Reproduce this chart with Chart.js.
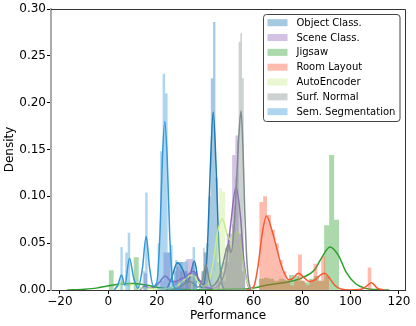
<!DOCTYPE html>
<html>
<head>
<meta charset="utf-8">
<script src="https://cdn.jsdelivr.net/npm/chart.js@4.4.1/dist/chart.umd.min.js"></script>
<style>
  html, body { margin: 0; padding: 0; background: #fff; }
  #chart { display: block; }
</style>
</head>
<body>
<canvas id="chart" width="416" height="326"></canvas>
<script>
// Series names (legend order = plotting order)
const seriesNames = ["Object Class.", "Scene Class.", "Jigsaw", "Room Layout", "AutoEncoder", "Surf. Normal", "Sem. Segmentation"];
const seriesColors = ["31,119,180", "148,103,189", "44,160,44", "250,87,51", "200,235,140", "127,140,141", "52,152,219"];

// Histograms: first bin edge, bin width, density per bin
const objStart = 26.15, objWidth = 0.95;
const objHeights = [0.01, 0.02, 0.03, 0.03, 0.03, 0.03, 0.02, 0.01, 0.02, 0.03, 0.02, 0.0, 0.01, 0.02, 0.04, 0.05, 0.1, 0.226, 0.286, 0.12, 0.03];

const sceneStart = 14.65, sceneWidth = 1.35;
const sceneHeights = [0.018, 0, 0, 0, 0, 0.01, 0.04, 0.04, 0, 0.01, 0.025, 0.02, 0.02, 0.033, 0.033, 0.02, 0, 0, 0, 0, 0, 0, 0.01, 0, 0.01, 0.03, 0.06, 0.144, 0.165, 0.06, 0.02];

const jigStart = 0.1, jigWidth = 2.07;
const jigHeights = [0.021, 0, 0, 0, 0, 0.035, 0, 0, 0, 0, 0, 0, 0, 0, 0, 0, 0, 0, 0, 0, 0, 0, 0, 0, 0, 0, 0, 0, 0, 0, 0.012, 0.013, 0.012, 0.01, 0.012, 0.011, 0.016, 0.015, 0.01, 0.008, 0.012, 0.015, 0.01, 0.069, 0.144, 0.075];

const roomStart = 62.3, roomWidth = 1.6;
const roomHeights = [0.094, 0.1, 0.08, 0.064, 0.05, 0.032, 0.02, 0.01, 0.005, 0.01, 0.038, 0.01, 0.005, 0.01, 0.028, 0.01, 0.036, 0.015, 0, 0, 0, 0, 0, 0, 0, 0, 0, 0, 0.024];

const aeStart = 4.0, aeWidth = 1.3;
const aeHeights = [0.01, 0.01, 0, 0.01, 0, 0, 0, 0, 0, 0, 0, 0, 0, 0, 0, 0, 0, 0, 0, 0, 0, 0, 0, 0.015, 0.015, 0, 0, 0, 0, 0, 0.02, 0.06, 0.109, 0.105, 0.04, 0.05, 0.06, 0.06, 0.05, 0.02];

const surfStart = 30.0, surfWidth = 0.7;
const surfHeights = [0, 0.01, 0, 0.015, 0.01, 0.015, 0, 0.01, 0, 0, 0, 0, 0.02, 0.045, 0.04, 0.02, 0, 0, 0, 0, 0, 0, 0.01, 0.02, 0.02, 0.03, 0.045, 0.06, 0.05, 0.04, 0.07, 0.09, 0.12, 0.16, 0.265, 0.274, 0.226, 0.03];

const semStart = 4.89, semWidth = 1.03;
const semHeights = [0.046, 0, 0.04, 0.061, 0, 0, 0, 0, 0, 0.02, 0.104, 0, 0, 0, 0, 0.05, 0.148, 0.231, 0.21, 0.04, 0.048, 0, 0.032, 0, 0.03, 0, 0.031, 0, 0, 0.046, 0.01];

// Density curves
const objKdeX = [24, 26, 28.5, 31, 32.5, 34, 35.5, 37, 38.5, 40, 41, 42, 43.3, 44.5, 45.5, 46.5, 47.5, 49];
const objKdeY = [0, 0.012, 0.029, 0.02, 0.008, 0.018, 0.031, 0.012, 0.003, 0.014, 0.05, 0.123, 0.19, 0.13, 0.055, 0.014, 0.002, 0];

const sceneKdeX = [13, 15, 17, 19, 21, 23.5, 26, 28, 30, 32, 35, 37.5, 40, 43, 46, 48.5, 50.5, 52.7, 54.5, 56, 57.5, 59];
const sceneKdeY = [0, 0.004, 0.002, 0.003, 0.008, 0.015, 0.009, 0.009, 0.012, 0.014, 0.02, 0.011, 0.003, 0.002, 0.006, 0.025, 0.07, 0.11, 0.08, 0.03, 0.006, 0];

const jigKdeX = [-17, -10, -5, 0, 5, 10, 15, 20, 25, 30, 40, 50, 60, 65, 70, 75, 80, 85, 88, 91.5, 95, 98, 102, 106, 110, 116];
const jigKdeY = [0, 0.0008, 0.002, 0.0045, 0.0065, 0.007, 0.0055, 0.003, 0.0012, 0.0005, 0.0003, 0.0008, 0.002, 0.005, 0.007, 0.009, 0.013, 0.021, 0.034, 0.046, 0.037, 0.02, 0.007, 0.002, 0.0005, 0];

const roomKdeX = [57, 60, 62, 63.5, 65.3, 67.5, 69.5, 71, 72.5, 74.5, 76, 78.5, 80.5, 83, 85.5, 87.5, 89.3, 91.5, 93.5, 96, 100, 104, 106, 108.7, 111, 114];
const roomKdeY = [0, 0.0035, 0.029, 0.06, 0.079, 0.064, 0.045, 0.03, 0.019, 0.011, 0.012, 0.018, 0.014, 0.009, 0.011, 0.016, 0.018, 0.012, 0.005, 0.001, 0, 0.0005, 0.003, 0.0078, 0.002, 0];

const aeKdeX = [2, 4, 6, 8, 10, 12, 15, 20, 25, 28, 31, 34.5, 37, 39, 41, 43, 45, 47, 49, 50.5, 52, 53.5, 55, 56.5, 58, 60];
const aeKdeY = [0, 0.004, 0.008, 0.005, 0.006, 0.003, 0.002, 0.001, 0.002, 0.004, 0.01, 0.016, 0.009, 0.004, 0.006, 0.025, 0.06, 0.076, 0.06, 0.053, 0.06, 0.062, 0.04, 0.015, 0.004, 0];

const surfKdeX = [27, 29, 31, 33, 35, 37, 39, 40.3, 41.5, 42.5, 44, 46, 47.5, 49.6, 50.6, 52, 53, 54, 54.8, 55.6, 56.3, 57, 57.8, 58.8];
const surfKdeY = [0, 0.002, 0.006, 0.01, 0.007, 0.003, 0.012, 0.027, 0.012, 0.004, 0.006, 0.015, 0.03, 0.049, 0.04, 0.07, 0.12, 0.17, 0.191, 0.15, 0.085, 0.04, 0.012, 0];

const semKdeX = [2.5, 4, 5.4, 6.8, 8.7, 10.5, 12.2, 14, 15.6, 17, 18.6, 20, 21.3, 22.3, 23.3, 24.3, 25.3, 26.5, 28, 30];
const semKdeY = [0, 0.006, 0.016, 0.005, 0.034, 0.012, 0.002, 0.022, 0.057, 0.024, 0.004, 0.008, 0.06, 0.14, 0.18, 0.14, 0.06, 0.01, 0.001, 0];

// Axis ticks
const xTickValues = [-20, 0, 20, 40, 60, 80, 100, 120];
const yTickValues = [0, 0.05, 0.10, 0.15, 0.20, 0.25, 0.30];

const hists = [
    [objStart, objWidth, objHeights],
    [sceneStart, sceneWidth, sceneHeights],
    [jigStart, jigWidth, jigHeights],
    [roomStart, roomWidth, roomHeights],
    [aeStart, aeWidth, aeHeights],
    [surfStart, surfWidth, surfHeights],
    [semStart, semWidth, semHeights]
];
const kdes = [
    [objKdeX, objKdeY],
    [sceneKdeX, sceneKdeY],
    [jigKdeX, jigKdeY],
    [roomKdeX, roomKdeY],
    [aeKdeX, aeKdeY],
    [surfKdeX, surfKdeY],
    [semKdeX, semKdeY]
];

// bars as a closed outline: corners of every bin
function histOutline(start, width, heights) {
    const pts = [{x: start, y: 0}];
    heights.forEach((h, i) => {
        pts.push({x: start + i * width, y: h});
        pts.push({x: start + (i + 1) * width, y: h});
    });
    pts.push({x: start + heights.length * width, y: 0});
    return pts;
}

const datasets = [];
seriesNames.forEach((name, k) => {
    const [start, width, heights] = hists[k];
    datasets.push({
        label: name,
        data: histOutline(start, width, heights),
        backgroundColor: `rgba(${seriesColors[k]},0.4)`,
        borderColor: 'rgba(0,0,0,0)',
        borderWidth: 0,
        fill: 'origin',
        pointRadius: 0,
        tension: 0,
        order: 100 - 2 * k
    });
    const [kx, ky] = kdes[k];
    datasets.push({
        label: name + ' kde',
        data: kx.map((x, i) => ({x: x, y: ky[i]})),
        borderColor: `rgb(${seriesColors[k]})`,
        borderWidth: 1.5,
        fill: false,
        pointRadius: 0,
        cubicInterpolationMode: 'monotone',
        order: 99 - 2 * k
    });
});

// legend box + top/right spines
const frameAndLegend = {
    id: 'frameAndLegend',
    afterDraw(chart) {
        const ctx = chart.ctx;
        const a = chart.chartArea;
        ctx.save();
        ctx.strokeStyle = '#333';
        ctx.lineWidth = 1;
        ctx.beginPath();
        ctx.moveTo(a.left, a.top + 0.5);
        ctx.lineTo(a.right + 0.5, a.top + 0.5);
        ctx.lineTo(a.right + 0.5, a.bottom);
        ctx.stroke();

        const bx = 263.5, by = 14.5, bw = 136.5, bh = 107;
        ctx.fillStyle = 'rgba(255,255,255,0.8)';
        ctx.strokeStyle = '#444';
        ctx.beginPath();
        ctx.roundRect(bx, by, bw, bh, 3);
        ctx.fill();
        ctx.stroke();

        ctx.font = '10px "DejaVu Sans"';
        ctx.textBaseline = 'middle';
        seriesNames.forEach((name, k) => {
            const cy = 22.7 + k * 14.83;
            ctx.fillStyle = `rgba(${seriesColors[k]},0.4)`;
            ctx.fillRect(267.5, cy - 3.5, 20, 7);
            ctx.fillStyle = '#000';
            ctx.fillText(name, 296.5, cy + 0.5);
        });
        ctx.restore();
    }
};

new Chart(document.getElementById('chart'), {
    type: 'line',
    data: { datasets: datasets },
    options: {
        responsive: false,
        animation: false,
        devicePixelRatio: 1,
        layout: { padding: { top: 9, right: 11, left: 0, bottom: 0 } },
        plugins: {
            legend: { display: false },
            tooltip: { enabled: false }
        },
        scales: {
            x: {
                type: 'linear',
                min: -23.7,
                max: 122.5,
                afterBuildTicks: s => { s.ticks = xTickValues.map(v => ({value: v})); },
                afterFit: s => { s.height = 36; },
                ticks: {
                    color: '#000',
                    padding: 1,
                    maxRotation: 0,
                    font: { family: 'DejaVu Sans', size: 12 },
                    callback: v => v < 0 ? '\u2212' + Math.abs(v) : String(v)
                },
                grid: { drawOnChartArea: false, drawTicks: true, tickLength: 4, color: '#000' },
                border: { display: true, color: '#333', width: 1 },
                title: {
                    display: true,
                    text: 'Performance',
                    color: '#000',
                    font: { family: 'DejaVu Sans', size: 12 },
                    padding: { top: 0, bottom: 3 }
                }
            },
            y: {
                type: 'linear',
                min: 0,
                max: 0.30,
                afterBuildTicks: s => { s.ticks = yTickValues.map(v => ({value: v})); },
                afterFit: s => { s.width = 51; },
                ticks: {
                    color: '#000',
                    padding: 1,
                    font: { family: 'DejaVu Sans', size: 12 },
                    callback: v => v.toFixed(2)
                },
                grid: { drawOnChartArea: false, drawTicks: true, tickLength: 4, color: '#000' },
                border: { display: true, color: '#aaa', width: 2 },
                title: {
                    display: true,
                    text: 'Density',
                    color: '#000',
                    font: { family: 'DejaVu Sans', size: 12 },
                    padding: { top: 3, bottom: 0 }
                }
            }
        }
    },
    plugins: [frameAndLegend]
});
</script>
</body>
</html>
